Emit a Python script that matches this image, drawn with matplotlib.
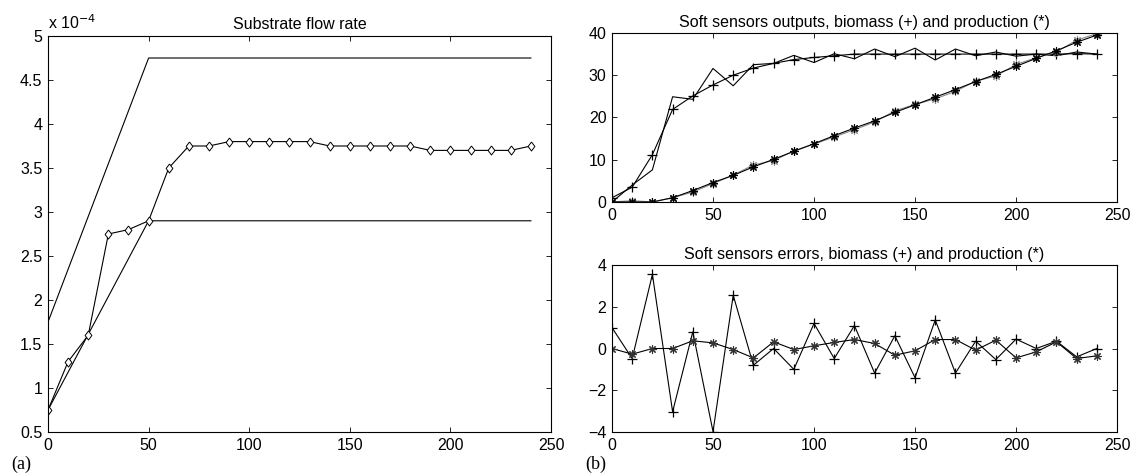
import matplotlib
matplotlib.use("Agg")
import matplotlib.pyplot as plt
from matplotlib.ticker import FuncFormatter

plt.rcParams["font.family"] = ["Liberation Sans", "DejaVu Sans"]
plt.rcParams["font.size"] = 11.5

# Dades llegides de la figura
t = [0, 10, 20, 30, 40, 50, 60, 70, 80, 90, 100, 110, 120,
     130, 140, 150, 160, 170, 180, 190, 200, 210, 220, 230, 240]

# (a) cabal de substrat
flow = [0.75e-4, 1.3e-4, 1.6e-4, 2.75e-4, 2.8e-4, 2.9e-4, 3.5e-4, 3.75e-4, 3.75e-4,
        3.8e-4, 3.8e-4, 3.8e-4, 3.8e-4, 3.8e-4, 3.75e-4, 3.75e-4, 3.75e-4, 3.75e-4,
        3.75e-4, 3.7e-4, 3.7e-4, 3.7e-4, 3.7e-4, 3.7e-4, 3.75e-4]
t_bound = [0, 50, 240]
flow_max = [1.75e-4, 4.75e-4, 4.75e-4]
flow_min = [0.75e-4, 2.9e-4, 2.9e-4]

# (b) sortides dels sensors
biomass_est = [1.0, 3.5, 11.2, 21.9, 25.1, 27.7, 30.0, 31.7, 32.8, 33.7, 34.2, 34.6, 35.0,
               35.0, 35.0, 35.0, 35.0, 35.0, 35.0, 35.0, 35.0, 35.0, 35.0, 35.1, 35.0]
biomass_meas = [0.0, 4.0, 7.6, 24.9, 24.3, 31.6, 27.5, 32.5, 32.8, 34.7, 33.0, 35.1, 33.9,
                36.2, 34.4, 36.4, 33.6, 36.2, 34.6, 35.5, 34.5, 35.0, 34.6, 35.5, 35.0]
prod_est = [0.0, 0.0, 0.0, 1.0, 2.7, 4.6, 6.3, 8.3, 10.1, 12.0, 13.8, 15.7, 17.5,
            19.2, 21.2, 23.0, 24.8, 26.6, 28.5, 30.2, 32.1, 34.0, 35.8, 37.8, 39.5]
prod_meas = [0.0, 0.3, 0.0, 1.0, 2.35, 4.35, 6.35, 8.75, 9.8, 12.05, 13.7, 15.4, 17.1,
             18.95, 21.55, 23.1, 24.4, 26.2, 28.6, 29.8, 32.55, 34.15, 35.5, 38.3, 39.85]

# errors
biomass_err = [1.0, -0.48, 3.55, -3.03, 0.8, -3.98, 2.55, -0.8, 0.0, -1.0, 1.2, -0.48, 1.1,
               -1.18, 0.61, -1.4, 1.37, -1.18, 0.35, -0.53, 0.45, 0.0, 0.35, -0.4, 0.0]
prod_err = [0.0, -0.27, 0.0, 0.0, 0.37, 0.27, -0.05, -0.45, 0.32, -0.05, 0.13, 0.29, 0.43,
            0.24, -0.32, -0.11, 0.43, 0.43, -0.08, 0.4, -0.45, -0.16, 0.32, -0.48, -0.35]

lw = 0.8
star = (8, 2, 0)  # asterisc tipus MATLAB
diamond = [(0, 1), (0.75, 0), (0, -1), (-0.75, 0), (0, 1)]
fig = plt.figure(figsize=(11.35, 4.73), dpi=100)
ax1 = fig.add_axes([0.0423, 0.0867, 0.4432, 0.8372])
ax2 = fig.add_axes([0.5392, 0.5730, 0.4450, 0.3573])
ax3 = fig.add_axes([0.5392, 0.0867, 0.4450, 0.3530])

for ax in (ax1, ax2, ax3):
    ax.tick_params(direction="in", top=True, right=True, length=3.5, width=0.6, pad=4)
    for s in ax.spines.values():
        s.set_linewidth(0.8)
    ax.set_xlim(0, 250)
    ax.set_xticks([0, 50, 100, 150, 200, 250])

# Gràfic (a)
ax1.plot(t_bound, flow_max, color="black", lw=lw)
ax1.plot(t_bound, flow_min, color="black", lw=lw)
ax1.plot(t, flow, color="black", lw=lw, marker=diamond, markersize=6.5,
         markerfacecolor="white", markeredgewidth=0.7)
ax1.set_ylim(0.5e-4, 5e-4)
ax1.set_yticks([i * 0.5e-4 for i in range(1, 11)])
ax1.yaxis.set_major_formatter(FuncFormatter(lambda v, p: "%g" % round(v / 1e-4, 2)))
ax1.text(0.0, 1.01, "x 10$^{-4}$", transform=ax1.transAxes, ha="left", va="bottom")
ax1.set_title("Substrate flow rate", fontsize=11.5, pad=5)

# Gràfic (b) sortides
ax2.plot(t, biomass_meas, color="black", lw=lw)
ax2.plot(t, biomass_est, color="black", lw=lw, marker="+", markersize=7, markeredgewidth=0.9)
ax2.plot(t, prod_meas, color="#888888", lw=lw, marker=star, markersize=6, markeredgewidth=0.8)
ax2.plot(t, prod_est, color="black", lw=lw, marker=star, markersize=6, markeredgewidth=0.8)
ax2.set_ylim(0, 40)
ax2.set_yticks([0, 10, 20, 30, 40])
ax2.set_title("Soft sensors outputs, biomass (+) and production (*)", fontsize=11.5, pad=4)

# Gràfic (b) errors
ax3.plot(t, biomass_err, color="black", lw=lw, marker="+", markersize=7, markeredgewidth=0.9)
ax3.plot(t, prod_err, color="black", lw=lw, marker=star, markersize=6, markeredgewidth=0.8,
         markeredgecolor="#333333")
ax3.set_ylim(-4, 4)
ax3.set_yticks([-4, -2, 0, 2, 4])
ax3.set_title("Soft sensors errors, biomass (+) and production (*)", fontsize=11.5, pad=4)

fig.text(0.0097, 0.009, "(a)", family=["Liberation Serif", "DejaVu Serif"], fontsize=13)
fig.text(0.5154, 0.009, "(b)", family=["Liberation Serif", "DejaVu Serif"], fontsize=13)

fig.savefig("out.png", dpi=100)
